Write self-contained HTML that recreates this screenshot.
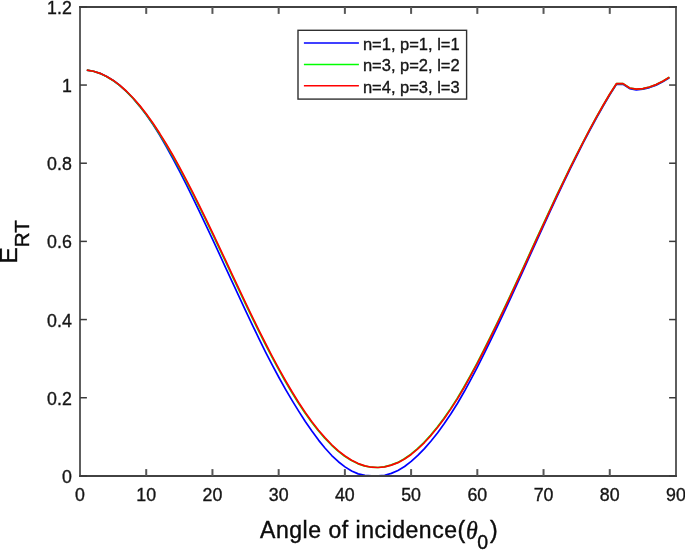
<!DOCTYPE html>
<html><head><meta charset="utf-8"><title>E_RT vs angle of incidence</title>
<style>
html,body{margin:0;padding:0;background:#fff;}
body{width:685px;height:550px;overflow:hidden;}
svg{display:block;}
text{font-family:"Liberation Sans",Arial,Helvetica,sans-serif;fill:#262626;}
.tk{font-size:17.8px;fill:#151515;stroke:#151515;stroke-width:0.35px;}
.lg{font-size:16.5px;fill:#151515;stroke:#151515;stroke-width:0.35px;}
.lb{font-size:23px;fill:#0c0c0c;stroke:#0c0c0c;stroke-width:0.4px;}
</style></head><body>
<svg width="685" height="550" viewBox="0 0 685 550">
<rect x="0" y="0" width="685" height="550" fill="#ffffff"/>

<g fill="none" stroke-width="1.7" stroke-linejoin="round" stroke-linecap="butt">
<polyline stroke="#0000ff" points="86.82,70.11 93.44,71.26 100.06,73.37 106.68,76.46 113.30,80.51 119.92,85.55 126.54,91.57 133.16,98.51 139.78,106.34 146.40,115.06 153.02,124.64 159.64,135.14 166.26,146.49 172.88,158.50 179.50,171.10 186.12,184.18 192.74,197.61 199.36,211.35 205.98,225.30 212.60,239.45 219.22,253.72 225.84,268.05 232.46,282.38 239.08,296.64 245.70,310.81 252.32,324.81 258.94,338.68 265.56,352.10 272.18,364.90 278.80,377.26 285.42,389.10 292.04,400.39 298.66,411.17 305.28,421.44 311.90,431.06 318.52,440.12 325.14,448.27 331.76,455.51 338.38,461.72 345.00,466.86 351.62,471.03 358.24,473.88 364.86,475.35 371.48,475.80 378.10,475.80 384.72,475.25 391.34,473.39 397.96,470.50 404.58,466.53 411.20,461.45 417.82,455.44 424.44,448.63 431.06,441.03 437.68,432.68 444.30,423.58 450.92,413.76 457.54,403.23 464.16,391.79 470.78,379.66 477.40,367.08 484.02,353.95 490.64,340.39 497.26,326.59 503.88,312.58 510.50,298.29 517.12,283.83 523.74,269.29 530.36,254.69 536.98,240.11 543.60,225.59 550.22,211.19 556.84,196.95 563.46,182.94 570.08,169.20 576.70,155.77 583.32,142.70 589.94,130.03 596.56,117.78 603.18,106.00 609.80,94.72 616.42,84.40 623.04,84.27 629.66,88.63 636.28,89.80 642.90,89.18 649.52,87.55 656.14,85.13 662.76,81.71 669.38,77.80"/>
<polyline stroke="#00ff00" points="86.82,70.11 93.34,71.25 99.87,73.35 106.43,76.40 113.00,80.41 119.59,85.37 126.17,91.24 132.77,98.01 139.36,105.64 145.95,114.10 152.54,123.34 159.13,133.33 165.71,144.00 172.31,155.30 178.91,167.18 185.52,179.58 192.14,192.42 198.76,205.65 205.38,219.18 212.00,232.97 218.62,246.92 225.24,260.98 231.86,275.07 238.48,289.12 245.10,303.06 251.72,316.81 258.34,330.31 264.96,343.50 271.58,356.30 278.20,368.66 284.82,380.50 291.44,391.79 298.06,402.45 304.68,412.44 311.30,421.70 317.92,430.20 324.54,437.90 331.16,444.78 337.78,450.82 344.40,456.01 351.02,460.30 357.64,463.59 364.26,465.89 370.88,467.21 377.50,467.52 384.12,466.82 390.74,465.16 397.36,462.63 403.98,459.07 410.60,454.45 417.22,448.90 423.85,442.53 430.48,435.33 437.12,427.29 443.76,418.45 450.40,408.89 457.04,398.63 463.69,387.49 470.33,375.66 476.97,363.32 483.61,350.50 490.24,337.18 496.87,323.60 503.50,309.84 510.13,295.83 516.76,281.63 523.39,267.30 530.01,252.89 536.64,238.46 543.27,224.09 549.91,209.81 556.54,195.69 563.19,181.78 569.85,168.12 576.51,154.77 583.19,141.77 589.86,129.15 596.52,116.96 603.17,105.23 609.80,93.98 616.42,83.70 623.04,83.60 629.66,88.00 636.28,89.20 642.90,88.60 649.52,87.00 656.14,84.60 662.76,81.20 669.38,77.30"/>
<polyline stroke="#ff0000" points="86.82,70.11 93.44,71.25 100.06,73.35 106.68,76.40 113.30,80.41 119.92,85.37 126.54,91.24 133.16,98.01 139.78,105.64 146.40,114.10 153.02,123.34 159.64,133.33 166.26,144.00 172.88,155.30 179.50,167.18 186.12,179.58 192.74,192.42 199.36,205.65 205.98,219.18 212.60,232.97 219.22,246.92 225.84,260.98 232.46,275.07 239.08,289.12 245.70,303.06 252.32,316.81 258.94,330.31 265.56,343.50 272.18,356.30 278.80,368.66 285.42,380.50 292.04,391.79 298.66,402.45 305.28,412.44 311.90,421.70 318.52,430.20 325.14,437.90 331.76,444.78 338.38,450.82 345.00,456.01 351.62,460.30 358.24,463.59 364.86,465.89 371.48,467.21 378.10,467.52 384.72,466.82 391.34,465.16 397.96,462.63 404.58,459.07 411.20,454.45 417.82,448.90 424.44,442.53 431.06,435.33 437.68,427.29 444.30,418.45 450.92,408.89 457.54,398.63 464.16,387.49 470.78,375.66 477.40,363.32 484.02,350.50 490.64,337.18 497.26,323.60 503.88,309.84 510.50,295.83 517.12,281.63 523.74,267.30 530.36,252.89 536.98,238.46 543.60,224.09 550.22,209.81 556.84,195.69 563.46,181.78 570.08,168.12 576.70,154.77 583.32,141.77 589.94,129.15 596.56,116.96 603.18,105.23 609.80,93.98 616.42,83.70 623.04,83.60 629.66,88.00 636.28,89.20 642.90,88.60 649.52,87.00 656.14,84.60 662.76,81.20 669.38,77.30"/>
</g>
<g shape-rendering="crispEdges">
<rect x="79" y="6" width="2" height="471" fill="#5e5e5e"/>
<rect x="675" y="6" width="2" height="471" fill="#5e5e5e"/>
<rect x="79" y="6" width="598" height="2" fill="#424242"/>
<rect x="79" y="475" width="598" height="2" fill="#424242"/>
</g>
<g stroke="#565656" stroke-width="2" fill="none">
<line x1="146.22" y1="476" x2="146.22" y2="469.1"/>
<line x1="146.22" y1="7" x2="146.22" y2="13.9"/>
<line x1="212.44" y1="476" x2="212.44" y2="469.1"/>
<line x1="212.44" y1="7" x2="212.44" y2="13.9"/>
<line x1="278.66" y1="476" x2="278.66" y2="469.1"/>
<line x1="278.66" y1="7" x2="278.66" y2="13.9"/>
<line x1="344.88" y1="476" x2="344.88" y2="469.1"/>
<line x1="344.88" y1="7" x2="344.88" y2="13.9"/>
<line x1="411.10" y1="476" x2="411.10" y2="469.1"/>
<line x1="411.10" y1="7" x2="411.10" y2="13.9"/>
<line x1="477.32" y1="476" x2="477.32" y2="469.1"/>
<line x1="477.32" y1="7" x2="477.32" y2="13.9"/>
<line x1="543.54" y1="476" x2="543.54" y2="469.1"/>
<line x1="543.54" y1="7" x2="543.54" y2="13.9"/>
<line x1="609.76" y1="476" x2="609.76" y2="469.1"/>
<line x1="609.76" y1="7" x2="609.76" y2="13.9"/>
</g>
<g stroke="#3a3a3a" stroke-width="1.5" fill="none">
<line x1="80" y1="475.90" x2="86.9" y2="475.90"/>
<line x1="676" y1="475.90" x2="669.1" y2="475.90"/>
<line x1="80" y1="397.73" x2="86.9" y2="397.73"/>
<line x1="676" y1="397.73" x2="669.1" y2="397.73"/>
<line x1="80" y1="319.56" x2="86.9" y2="319.56"/>
<line x1="676" y1="319.56" x2="669.1" y2="319.56"/>
<line x1="80" y1="241.39" x2="86.9" y2="241.39"/>
<line x1="676" y1="241.39" x2="669.1" y2="241.39"/>
<line x1="80" y1="163.22" x2="86.9" y2="163.22"/>
<line x1="676" y1="163.22" x2="669.1" y2="163.22"/>
<line x1="80" y1="85.05" x2="86.9" y2="85.05"/>
<line x1="676" y1="85.05" x2="669.1" y2="85.05"/>
<line x1="80" y1="6.88" x2="86.9" y2="6.88"/>
<line x1="676" y1="6.88" x2="669.1" y2="6.88"/>
</g>
<text class="tk" x="80.00" y="500.8" text-anchor="middle">0</text>
<text class="tk" x="146.22" y="500.8" text-anchor="middle">10</text>
<text class="tk" x="212.44" y="500.8" text-anchor="middle">20</text>
<text class="tk" x="278.66" y="500.8" text-anchor="middle">30</text>
<text class="tk" x="344.88" y="500.8" text-anchor="middle">40</text>
<text class="tk" x="411.10" y="500.8" text-anchor="middle">50</text>
<text class="tk" x="477.32" y="500.8" text-anchor="middle">60</text>
<text class="tk" x="543.54" y="500.8" text-anchor="middle">70</text>
<text class="tk" x="609.76" y="500.8" text-anchor="middle">80</text>
<text class="tk" x="675.98" y="500.8" text-anchor="middle">90</text>
<text class="tk" x="71.8" y="482.90" text-anchor="end">0</text>
<text class="tk" x="71.8" y="404.73" text-anchor="end">0.2</text>
<text class="tk" x="71.8" y="326.56" text-anchor="end">0.4</text>
<text class="tk" x="71.8" y="248.39" text-anchor="end">0.6</text>
<text class="tk" x="71.8" y="170.22" text-anchor="end">0.8</text>
<text class="tk" x="71.8" y="92.05" text-anchor="end">1</text>
<text class="tk" x="71.8" y="13.88" text-anchor="end">1.2</text>
<rect x="298.0" y="30.3" width="168.6" height="68.8" fill="#fff" stroke="#303030" stroke-width="1.4"/>
<line x1="303.9" y1="43.05" x2="358.9" y2="43.05" stroke="#0000ff" stroke-width="1.5"/>
<text class="lg" x="362.9" y="49.75">n=1, p=1, l=1</text>
<line x1="303.9" y1="64.45" x2="358.9" y2="64.45" stroke="#00ff00" stroke-width="1.5"/>
<text class="lg" x="362.9" y="71.15">n=3, p=2, l=2</text>
<line x1="303.9" y1="85.85" x2="358.9" y2="85.85" stroke="#ff0000" stroke-width="1.5"/>
<text class="lg" x="362.9" y="92.55">n=4, p=3, l=3</text>
<text class="lb" x="260.1" y="538" letter-spacing="0.525">Angle of incidence(</text>
<text class="lb" transform="translate(465.9,538.6) scale(0.92,1)" style="font-style:italic;font-family:'Liberation Serif','DejaVu Serif',serif;font-size:26px">θ</text>
<text class="lb" x="477.2" y="548.8" style="font-size:19.5px">0</text>
<text class="lb" x="490.1" y="538">)</text>
<text class="lb" style="font-size:23px" transform="translate(17.2,263.6) rotate(-90) scale(1.07,1)">E</text>
<text class="lb" style="font-size:19.5px" transform="translate(28.8,247.3) rotate(-90) scale(1.06,1)">RT</text>
</svg></body></html>
